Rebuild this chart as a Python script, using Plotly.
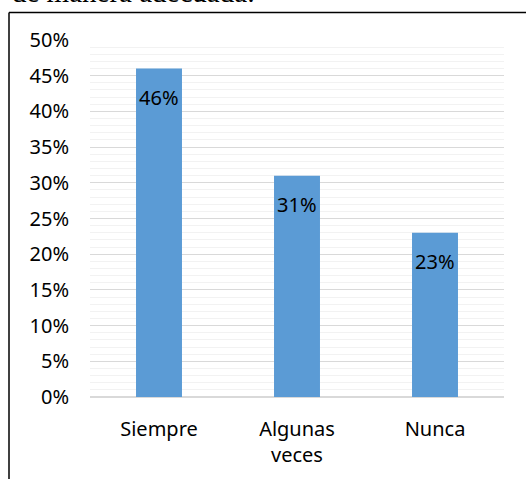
import plotly.graph_objects as go

categories = ["Siempre", "Algunas<br>veces", "Nunca"]
values = [0.46, 0.31, 0.23]
labels = ["46%", "31%", "23%"]
tick_vals = [0, 0.05, 0.10, 0.15, 0.20, 0.25, 0.30, 0.35, 0.40, 0.45, 0.50]
tick_text = ["0%", "5%", "10%", "15%", "20%", "25%", "30%", "35%", "40%", "45%", "50%"]

FONT = "Noto Sans"
FS = 20

fig = go.Figure()
fig.add_trace(go.Bar(
    x=categories, y=values, width=0.333,
    marker=dict(color="#5B9BD5", line=dict(width=0)),
    hoverinfo="skip",
))

for c, v, t in zip(categories, values, labels):
    fig.add_annotation(x=c, y=v, text=t, showarrow=False, yanchor="middle",
                       yshift=-29, font=dict(family=FONT, size=FS, color="#000000"))

# cut-off text from the page above
fig.add_annotation(xref="paper", yref="paper", x=(10 - 90) / 414, y=(397.5 - 6) / 358,
                   xanchor="left", yanchor="bottom", yshift=-3,
                   text="de manera adecuada:", showarrow=False,
                   font=dict(family="Liberation Serif", size=29, color="#000000"))

# frame (top and left edges visible)
fig.add_shape(type="line", xref="paper", yref="paper",
              x0=(9 - 90) / 414, x1=1.2, y0=(397.5 - 12) / 358, y1=(397.5 - 12) / 358,
              line=dict(color="#000000", width=1.5))
fig.add_shape(type="line", xref="paper", yref="paper",
              x0=(9 - 90) / 414, x1=(9 - 90) / 414, y0=(397.5 - 12) / 358, y1=-0.4,
              line=dict(color="#000000", width=1.5))

fig.update_layout(
    width=526, height=479,
    margin=dict(l=90, r=22, t=39.5, b=81.5),
    paper_bgcolor="#FFFFFF", plot_bgcolor="#FFFFFF",
    showlegend=False,
    font=dict(family=FONT, size=FS, color="#000000"),
    xaxis=dict(showgrid=False, showline=False, ticks="", ticklabelstandoff=18,
               tickfont=dict(family=FONT, size=FS, color="#000000"), fixedrange=True),
    yaxis=dict(range=[0, 0.5], tickvals=tick_vals, ticktext=tick_text,
               showgrid=True, gridcolor="#D9D9D9", gridwidth=1,
               zeroline=True, zerolinecolor="#D9D9D9", zerolinewidth=1.5,
               minor=dict(dtick=0.01, showgrid=True, gridcolor="#F2F2F2", gridwidth=1),
               ticks="", ticklabelstandoff=20, showline=False,
               tickfont=dict(family=FONT, size=FS, color="#000000"), fixedrange=True),
)

fig.write_html("out.html", config={"displayModeBar": False},
               post_script="document.body.style.margin='0';document.body.style.overflow='hidden';")
